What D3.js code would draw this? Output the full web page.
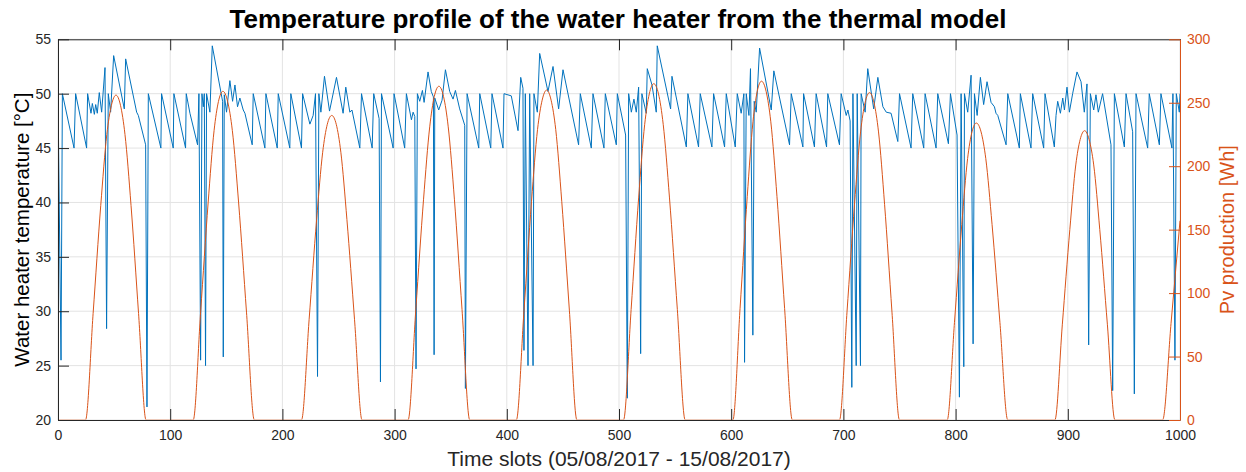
<!DOCTYPE html>
<html>
<head>
<meta charset="utf-8">
<script src="https://cdn.jsdelivr.net/npm/d3@7"></script>
<style>
	body { margin: 0; background: #fff; }
	svg { display: block; font-family: Arial, "Liberation Sans", Helvetica, sans-serif; }
</style>
</head>
<body>
<svg width="1246" height="472"></svg>
<script>
// temperature of the water heater, [time slot, °C] corners of the line
const temperature_points = [
	[0,50],[2.7,25.5],[3.9,50],[14.3,45],[15.7,50],[25.5,45],[26.4,50],[29.4,48.2],[30.6,49.1],[32.4,48.1],[33.6,49],[35,48.2],
	[36.8,50.1],[38.9,48.3],[41.9,52.4],[43.3,28.4],[44.8,50],[46.9,48.3],[49.6,53.5],[59.1,48.6],[60.3,53.2],[70.1,48.3],
	[71.6,48],[78.1,45.3],[79.3,21.2],[80.5,50],[91.7,45],[92.3,50],[102.7,45],[103.3,50],[113.7,45],[114.3,50],[117.6,48.2],
	[124.4,45.3],[125.6,50],[127.1,25.5],[128.3,50],[129.5,48.8],[130.4,50],[131.5,25],[132.4,50],[135.4,48.3],[137.5,54.4],
	[146.7,49.3],[147.3,25.8],[148.2,49.9],[150.2,48.3],[153.2,51.2],[155.6,49.3],[157.7,50.8],[160,48.8],[162.1,49.6],
	[165.1,48.5],[166.6,48.2],[173.1,45.3],[174,50],[184.4,45],[185.3,50],[195.4,45],[196.3,50],[206.6,45],[207.5,50],
	[217,45],[218,50],[224.5,47.2],[227.4,48],[229.5,50],[231.3,24],[232.5,50],[234.3,48.3],[237.5,51.6],[242,48.4],
	[248.2,51.5],[254.1,48.2],[256.5,50.6],[260.1,48.3],[262,48.5],[269,45],[270.5,50],[280,45],[281.4,50],[286.2,47.7],
	[287.4,23.5],[288.3,50],[298.7,45],[299.5,50],[309,45],[310.5,50],[315,47.6],[316.5,48.3],[318,47.9],[319.1,24.7],
	[320.3,50],[322.4,49.3],[324.8,50.3],[326.3,49.2],[329.8,52],[332.7,50.2],[334.6,49.7],[335.2,26],[335.8,49.6],
	[339.3,48.5],[342.3,49.4],[345.3,52.2],[349.1,50.2],[352.1,49.5],[354.2,50.3],[358,48.6],[362.5,47.1],[363.1,22.9],
	[364.6,50],[375,45],[375.9,50],[385.7,45],[386.8,50],[396.6,45],[397.5,50],[404,49.8],[408.5,47.4],[410,46.6],
	[412.4,51.5],[414.4,50.5],[415.3,26.4],[416.5,50],[418.9,25],[420.4,50],[423.4,25],[424.2,50],[427.2,48.3],[429.3,53.7],
	[436.7,50.2],[441.2,52.5],[446.2,48.6],[450.1,52.2],[464,45.3],[465.5,50],[475.3,45],[476.8,50],[486.6,45],[487.8,50],
	[497.6,45.3],[498.5,50],[505.9,46.2],[507.4,22],[508.6,50],[511,48.3],[513.3,49.5],[515.4,48.3],[517.5,50.6],[519.3,26.1],
	[520.4,50],[524.3,48.2],[525.2,52.3],[529.4,50.8],[533.2,48.3],[534.1,54.4],[546,48.6],[547.2,51.6],[560,45.1],[561.4,50],
	[570.9,45.1],[572.4,50],[582.8,45.1],[584.3,50],[594.1,45.1],[595.6,50],[603.6,45.1],[605.4,50],[608.9,48.2],[611.3,50],
	[611.9,25.3],[613.4,50],[615.8,48],[617.2,52.3],[619.3,27.8],[620.5,49.3],[622.3,48.3],[625.3,54.2],[635.7,48.5],
	[638,52.1],[652,45.3],[653.5,50],[663.9,45.1],[664.5,50],[674.2,45.1],[675.7,50],[685,45.1],[686.1,50],[696.5,45.3],
	[698,50],[702.5,48],[704,48.5],[706,47.5],[707.5,23],[708.5,50],[711.4,25],[712.3,50],[715.2,25],[715.8,50],[719.4,48.3],
	[721.7,52.3],[727,48.6],[730.7,51.5],[735.2,48.8],[738.2,48.3],[742.5,48.2],[748.5,45.6],[750,50],[760.3,45],[761.8,50],
	[771.6,45],[772.8,50],[782.6,45],[784.1,50],[793.6,45.4],[795.4,50],[801.3,46.2],[803.4,22.1],[804.9,50],[807.3,24.9],
	[807.9,50],[810.8,48.3],[813.8,51.7],[815.6,27],[816.8,50],[819.2,48],[822.1,51.5],[825,49],[828,51.1],[831.6,49.2],
	[834.6,48.8],[836,48.2],[837.6,48],[845,45.3],[846.5,50],[856.8,45],[857.7,50],[867.2,45],[868.7,50],[878.5,45],[879.7,50],
	[888,45.1],[889.5,48],[891,49.3],[893.4,48.2],[895.5,49.6],[897,48.5],[899.3,50.6],[901.4,48.3],[904.3,50],[908.2,52],
	[911.8,51.1],[914.7,48.3],[917.1,50.9],[918.6,26.9],[920.1,50],[923.1,48.5],[925.1,49.9],[927.2,48.3],[931,50],
	[938.5,45.3],[940,22.7],[941.5,50],[950.4,45.1],[951.9,50],[957.8,46.5],[959.3,22.4],[960.8,50],[971.2,45],[972.6,50],
	[981.6,45.3],[983,50],[992.8,45],[993.7,50],[995.5,25.5],[996.7,50],[999.4,48.3],[1000,50]
];

// pv production, [time slot, Wh]
const pv_points = [
	[0,0],[24.5,0],[31.3,84],[38.1,169],[43.5,225],[47.6,248],[51.7,256],[55.7,248],[59.7,225],[65.1,169],[71.8,84],[78.5,0],
	[120.5,0],[127.1,85],[133.8,171],[139.1,228],[143,251],[147,259],[151.2,251],[155.4,228],[161,171],[168,85],[175,0],
	[217,0],[223.8,79],[230.5,158],[235.9,211],[240,233],[244,240],[248,233],[252.1,211],[257.5,158],[264.3,79],[271,0],
	[312,0],[318.9,87],[325.8,174],[331.3,231],[335.4,255],[339.5,263],[343.6,255],[347.8,231],[353.3,174],[360.1,87],[367,0],
	[408.5,0],[415.3,86],[422,172],[427.4,229],[431.5,252],[435.5,260],[439.5,252],[443.6,229],[449,172],[455.8,86],[462.5,0],
	[504,0],[510.8,87],[517.5,175],[522.9,233],[527,257],[531,265],[535.2,257],[539.4,233],[545,175],[552,87],[559,0],
	[601.5,0],[607.9,88],[614.3,176],[619.4,235],[623.2,259],[627,267],[631.1,259],[635.3,235],[640.8,176],[647.6,88],[654.5,0],
	[696.5,0],[703.2,85],[709.9,170],[715.3,227],[719.3,250],[723.3,258],[727.3,250],[731.3,227],[736.7,170],[743.3,85],[750,0],
	[792.5,0],[799,77],[805.5,154],[810.7,206],[814.6,227],[818.5,234],[822.7,227],[826.9,206],[832.5,154],[839.5,77],[846.5,0],
	[888.5,0],[895.1,75],[901.8,150],[907.1,201],[911,221],[915,228],[919,221],[923.1,201],[928.5,150],[935.3,75],[942,0],
	[984.5,0],[992,76],[1000,157]
];

const x_ticks = [0, 100, 200, 300, 400, 500, 600, 700, 800, 900, 1000];
const left_ticks = [20, 25, 30, 35, 40, 45, 50, 55];
const right_ticks = [0, 50, 100, 150, 200, 250, 300];

const title_text = "Temperature profile of the water heater from the thermal model";
const x_label = "Time slots (05/08/2017 - 15/08/2017)";
const left_label = "Water heater temperature [°C]";
const right_label = "Pv production [Wh]";

const blue = "#0072BD";
const orange = "#D95319";
const axis_color = "#262626";
const grid_color = "#e3e3e3";

const plot_left = 58, plot_right = 1180, plot_top = 39.3, plot_bottom = 420;
const tick_len = 11;

const svg = d3.select("svg");

const x_scale = d3.scaleLinear().domain([0, 1000]).range([plot_left, plot_right]);
const y_left = d3.scaleLinear().domain([20, 55]).range([plot_bottom, plot_top]);
const y_right = d3.scaleLinear().domain([0, 300]).range([plot_bottom, plot_top]);

// grid
svg.append("g")
	.selectAll("line")
	.data(x_ticks)
	.join("line")
	.attr("x1", d => x_scale(d)).attr("x2", d => x_scale(d))
	.attr("y1", plot_top).attr("y2", plot_bottom)
	.attr("stroke", grid_color);

svg.append("g")
	.selectAll("line")
	.data(left_ticks)
	.join("line")
	.attr("x1", plot_left).attr("x2", plot_right)
	.attr("y1", d => y_left(d)).attr("y2", d => y_left(d))
	.attr("stroke", grid_color);

// series (pv clipped just above the x axis so the zero stretches hide under it)
svg.append("clipPath").attr("id", "plot_clip")
	.append("rect")
	.attr("x", plot_left).attr("y", plot_top)
	.attr("width", plot_right - plot_left).attr("height", plot_bottom - plot_top);

svg.append("clipPath").attr("id", "pv_clip")
	.append("rect")
	.attr("x", plot_left).attr("y", plot_top)
	.attr("width", plot_right - plot_left).attr("height", plot_bottom - plot_top - 0.5);

svg.append("path")
	.datum(temperature_points)
	.attr("clip-path", "url(#plot_clip)")
	.attr("fill", "none")
	.attr("stroke", blue)
	.attr("stroke-width", 1)
	.attr("d", d3.line().x(d => x_scale(d[0])).y(d => y_left(d[1])));

svg.append("path")
	.datum(pv_points)
	.attr("clip-path", "url(#pv_clip)")
	.attr("fill", "none")
	.attr("stroke", orange)
	.attr("stroke-width", 1)
	.attr("d", d3.line().curve(d3.curveMonotoneX).x(d => x_scale(d[0])).y(d => y_right(d[1])));

// axes, ticks pointing inside like matlab
function style_axis(g, color) {
	g.attr("font-family", null).attr("font-size", 14);
	g.select(".domain").attr("stroke", color);
	g.selectAll(".tick line").attr("stroke", color);
	g.selectAll(".tick text").attr("fill", color);
}

svg.append("g")
	.attr("transform", "translate(0," + plot_top + ")")
	.call(d3.axisTop(x_scale).tickValues(x_ticks).tickSizeInner(-tick_len).tickSizeOuter(0).tickFormat(""))
	.call(g => style_axis(g, axis_color));

svg.append("g")
	.attr("transform", "translate(0," + plot_bottom + ")")
	.call(d3.axisBottom(x_scale).tickValues(x_ticks).tickFormat(d3.format("d"))
		.tickSizeInner(-tick_len).tickSizeOuter(0).tickPadding(10))
	.call(g => style_axis(g, axis_color));

svg.append("g")
	.attr("transform", "translate(" + plot_left + ",0)")
	.call(d3.axisLeft(y_left).tickValues(left_ticks).tickSizeInner(-tick_len).tickSizeOuter(0).tickPadding(7))
	.call(g => style_axis(g, axis_color));

svg.append("g")
	.attr("transform", "translate(" + plot_right + ",0)")
	.call(d3.axisRight(y_right).tickValues(right_ticks).tickSizeInner(-tick_len).tickSizeOuter(0).tickPadding(7))
	.call(g => style_axis(g, orange));

// labels
svg.append("text")
	.attr("x", 618).attr("y", 28)
	.attr("text-anchor", "middle")
	.style("font-size", "26px").style("font-weight", "bold")
	.attr("fill", "#000")
	.text(title_text);

svg.append("text")
	.attr("x", (plot_left + plot_right) / 2).attr("y", 466)
	.attr("text-anchor", "middle")
	.style("font-size", "21px")
	.attr("fill", axis_color)
	.text(x_label);

svg.append("text")
	.attr("transform", "translate(29," + (plot_top + plot_bottom) / 2 + ") rotate(-90)")
	.attr("text-anchor", "middle")
	.style("font-size", "20.5px")
	.attr("fill", "#000")
	.text(left_label);

svg.append("text")
	.attr("transform", "translate(1234," + (plot_top + plot_bottom) / 2 + ") rotate(-90)")
	.attr("text-anchor", "middle")
	.style("font-size", "20px")
	.attr("fill", orange)
	.text(right_label);
</script>
</body>
</html>
